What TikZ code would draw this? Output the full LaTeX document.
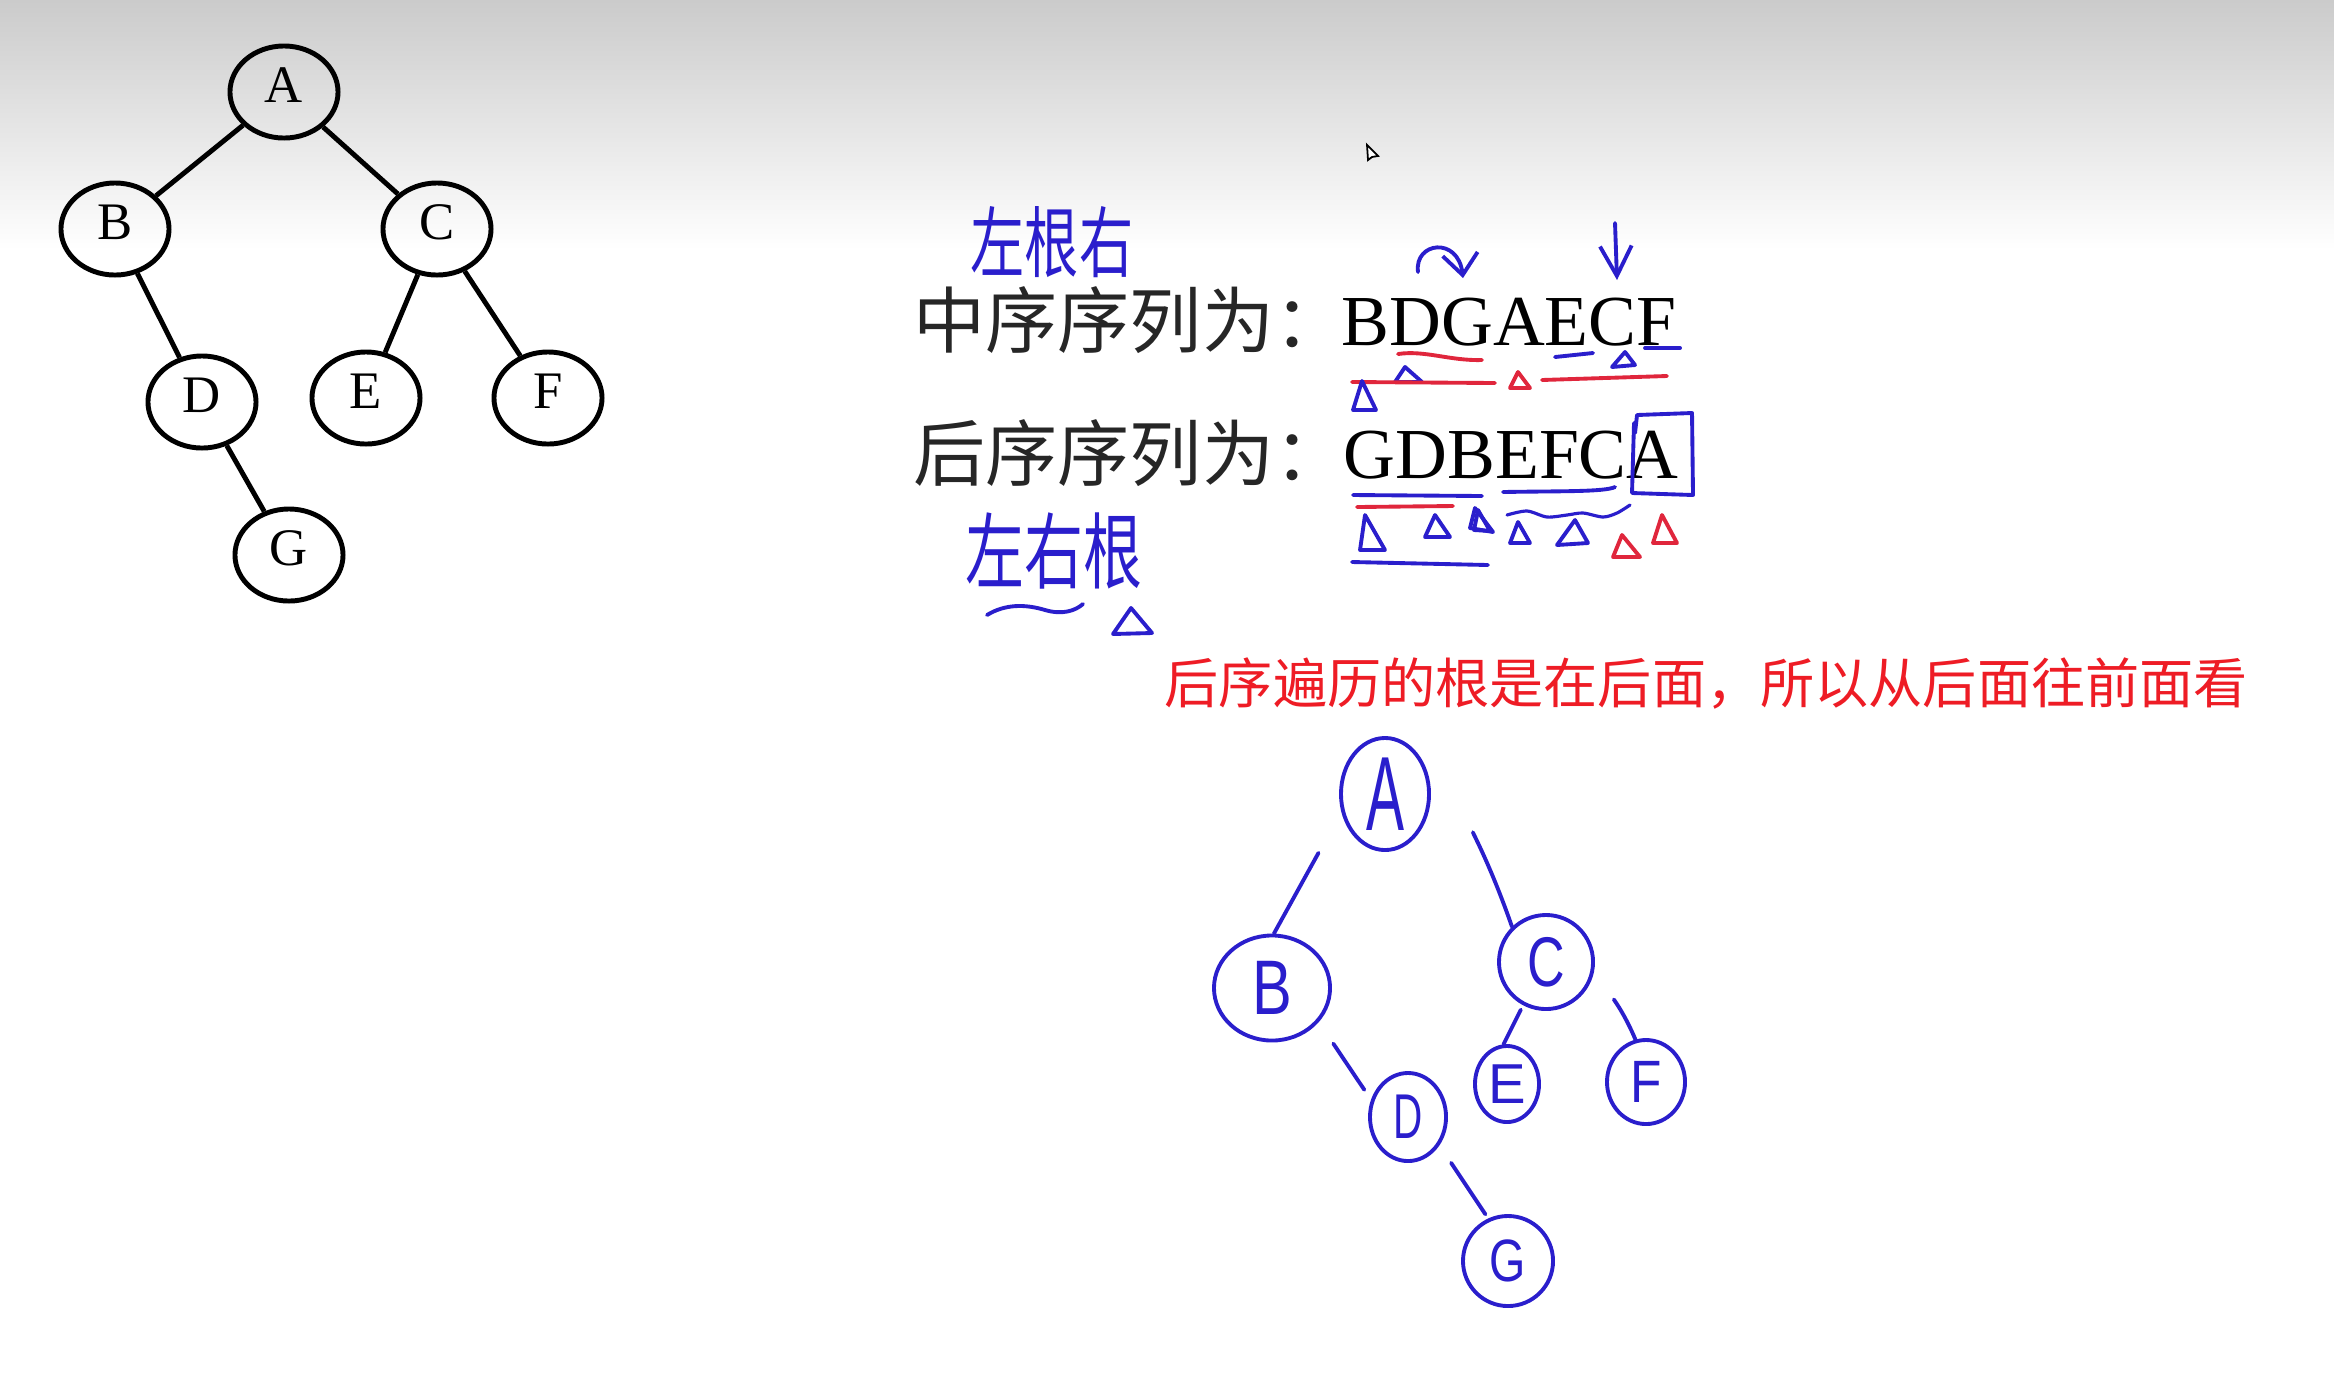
\documentclass[tikz,border=0pt]{standalone}
\usepackage{fontspec}
\setmainfont{Liberation Serif}
\newfontfamily\cjkfont{Noto Sans CJK SC}
\newfontfamily\handfont{Liberation Sans}
\usepackage{tikz}
\usetikzlibrary{arrows.meta, shapes.geometric}
\definecolor{bgtop}{HTML}{CBCBCB}
\definecolor{penblue}{HTML}{2A1ECC}
\definecolor{penred}{HTML}{E0263C}
\definecolor{hintred}{HTML}{EE1C25}

\begin{document}
\begin{tikzpicture}[x=0.01cm, y=-0.01cm,
    tnode/.style={draw, ellipse, line width=1.4pt, inner sep=0pt,
                  minimum width=1.08cm, minimum height=0.92cm, text depth=0.13cm,
                  font=\fontsize{15}{18}\selectfont},
    tedge/.style={line width=1.4pt},
    hnode/.style={draw=penblue, ellipse, line width=1.1pt, inner sep=0pt, text=penblue},
    pen/.style={draw=#1, line width=1.1pt, line cap=round, line join=round},
    pen/.default=penblue,
    lbl/.style={anchor=base west, inner sep=0pt, text=black!85,
                font=\cjkfont\fontsize{20.5}{22}\selectfont},
    seq/.style={anchor=base west, inner sep=0pt, text=black,
                font=\fontsize{20.4}{24}\selectfont},
    note/.style={anchor=base west, inner sep=0pt, text=penblue, font=\cjkfont\fontsize{#1}{#1}\selectfont},
]
    \useasboundingbox (0,0) rectangle (2334,1384);
    \fill[white] (0,0) rectangle (2334,1384);
    \shade[top color=bgtop, bottom color=white] (0,0) rectangle (2334,250);

    % Printed tree
    \node[tnode] (A) at (284,92) {A};
    \node[tnode] (B) at (115,229) {B};
    \node[tnode] (C) at (437,229) {C};
    \node[tnode] (D) at (202,402) {D};
    \node[tnode] (E) at (366,398) {E};
    \node[tnode] (F) at (548,398) {F};
    \node[tnode] (G) at (289,555) {G};
    \draw[tedge] (A) -- (B);
    \draw[tedge] (A) -- (C);
    \draw[tedge] (B) -- (D);
    \draw[tedge] (C) -- (E);
    \draw[tedge] (C) -- (F);
    \draw[tedge] (D) -- (G);

    % Mouse pointer
    \draw[line width=0.5pt, fill=white] (1367,145) -- (1368,160) -- (1372,157) -- (1378,156) -- cycle;

    % === sequences ===
    \node[lbl] (inlbl) at (913,347) {中序序列为：};
    \node[seq] (inseq) at (1341,345) {BDGAECF};
    \node[lbl] (postlbl) at (913,480) {后序序列为：};
    \node[seq] (postseq) at (1343,478) {GDBEFCA};

    % Handwritten notes
    \node[note=22] (inhand) at (970,271) {\scalebox{0.7}[1]{左根右}};
    \node[note=23.6] (posthand) at (965,582) {\scalebox{0.71}[1]{左右根}};
    \draw[pen] (987,615) .. controls (1005,604) and (1025,604) .. (1045,610)
        .. controls (1062,615) and (1075,611) .. (1083,604);
    \draw[pen] (1113,634) -- (1131,608) -- (1152,633) -- cycle;

    % === marks on BDGAECF ===
    \draw[pen, -{Straight Barb[length=6pt, width=10pt]}] (1418,272) .. controls (1414,242) and (1458,236) .. (1463,278);
    \draw[pen, -{Straight Barb[length=8.5pt, width=9pt]}] (1615,223) -- (1617,280);
    \draw[pen=penred] (1398,354) .. controls (1425,350) and (1450,361) .. (1482,360);
    \draw[pen] (1555,357) -- (1593,353);
    \draw[pen] (1645,348) -- (1680,348);
    \draw[pen] (1612,367) -- (1625,352) -- (1635,365) -- cycle;
    \draw[pen] (1395,382) -- (1405,367) -- (1422,382) -- cycle;
    \draw[pen=penred] (1352,382) -- (1495,383);
    \draw[pen=penred] (1510,388) -- (1518,372) -- (1530,388) -- cycle;
    \draw[pen=penred] (1542,380) -- (1667,376);
    \draw[pen] (1353,410) -- (1362,381) -- (1376,410) -- cycle;

    % === marks on GDBEFCA ===
    \draw[pen] (1635,433) -- (1637,415) -- (1692,413) -- (1693,495) -- (1632,493) -- (1634,423);
    \draw[pen] (1353,495) -- (1482,496);
    \draw[pen] (1503,492) .. controls (1560,491) and (1605,492) .. (1615,487);
    \draw[pen=penred] (1357,507) -- (1453,506);
    \draw[pen] (1360,550) -- (1365,515) -- (1385,550) -- cycle;
    \draw[pen] (1425,537) -- (1435,515) -- (1450,537) -- cycle;
    \draw[pen] (1470,528) -- (1475,508) -- (1493,532) -- cycle;
    \draw[pen] (1474,530) -- (1478,510) -- (1490,531) -- cycle;
    \draw[pen, line width=0.9pt] plot[smooth] coordinates {(1507,515) (1527,511) (1547,517) (1567,515) (1583,513) (1603,517) (1617,513) (1630,505)};
    \draw[pen] (1510,543) -- (1518,522) -- (1530,543) -- cycle;
    \draw[pen] (1557,545) -- (1575,520) -- (1588,543) -- cycle;
    \draw[pen=penred] (1613,557) -- (1622,535) -- (1640,557) -- cycle;
    \draw[pen=penred] (1653,543) -- (1662,515) -- (1677,543) -- cycle;
    \draw[pen] (1352,562) -- (1488,565);

    % Hint
    \node[anchor=base west, inner sep=0pt, text=hintred, font=\cjkfont\fontsize{15.4}{18}\selectfont]
        (hint) at (1164,703) {后序遍历的根是在后面，所以从后面往前面看};

    % === rebuilt tree ===
    \node[hnode, minimum width=0.88cm, minimum height=1.12cm] (hA) at (1385,794)
        {\handfont\fontsize{30}{30}\selectfont\scalebox{0.54}[1]{A}};
    \node[hnode, minimum width=1.16cm, minimum height=1.05cm] (hB) at (1272,988)
        {\handfont\fontsize{22}{22}\selectfont\scalebox{0.77}[1]{B}};
    \node[hnode, minimum width=0.94cm, minimum height=0.94cm] (hC) at (1546,962)
        {\handfont\fontsize{20}{20}\selectfont\scalebox{0.74}[1]{C}};
    \node[hnode, minimum width=0.76cm, minimum height=0.88cm] (hD) at (1408,1117)
        {\handfont\fontsize{18}{18}\selectfont\scalebox{0.64}[1]{D}};
    \node[hnode, minimum width=0.64cm, minimum height=0.76cm] (hE) at (1507,1084)
        {\handfont\fontsize{16}{16}\selectfont E};
    \node[hnode, minimum width=0.78cm, minimum height=0.84cm] (hF) at (1646,1082)
        {\handfont\fontsize{17}{17}\selectfont\scalebox{0.86}[1]{F}};
    \node[hnode, minimum width=0.90cm, minimum height=0.90cm] (hG) at (1508,1261)
        {\handfont\fontsize{17}{17}\selectfont\scalebox{0.78}[1]{G}};
    \draw[pen, shorten <=0.47cm] (hA.202) -- (hB.88);
    \draw[pen, shorten <=0.69cm] (hA.19) to[bend left=10] (hC.134);
    \draw[pen, shorten <=0.26cm, shorten >=0.12cm] (hB.-36) -- (hD.155);
    \draw[pen, shorten <=0.05cm] (hC.242) -- (hE.95);
    \draw[pen, shorten <=0.29cm] (hC.-24) to[bend left=15] (hF.104);
    \draw[pen, shorten <=0.21cm, shorten >=0.05cm] (hD.-42) -- (hG.115);
\end{tikzpicture}
\end{document}
